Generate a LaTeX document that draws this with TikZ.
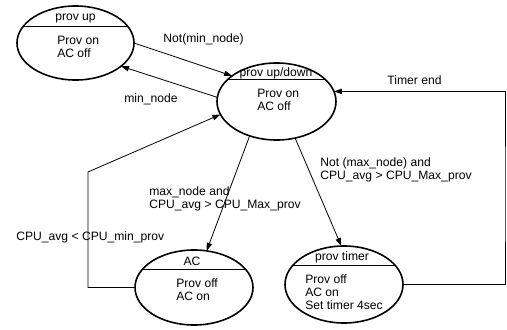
\documentclass[tikz,border=0pt]{standalone}
\usepackage{fontspec}
\setmainfont{Liberation Sans}
\usetikzlibrary{arrows.meta,calc,shapes.geometric}
\begin{document}
\begin{tikzpicture}[x=0.75pt,y=-0.75pt,
  state/.style={draw, ellipse, line width=1.2pt, inner sep=0pt, outer sep=0pt},
  conn/.style={line width=0.6pt},
  arr/.style={conn, -{Triangle[length=6pt,width=4pt]}},
  txt/.style={inner sep=0pt, font=\fontsize{9.1}{10}\selectfont},
  hdr/.style={line width=0.75pt}]
\useasboundingbox (0,0) rectangle (507,329);

% states
\node[state, minimum width=87.75pt, minimum height=55.5pt] (e1) at (75.5,43) {};
\node[state, minimum width=89.25pt, minimum height=57.75pt] (e2) at (276.5,101.5) {};
\node[state, minimum width=88.5pt, minimum height=56.25pt] (e3) at (194,287.5) {};
\node[state, minimum width=88.5pt, minimum height=57.75pt] (e4) at (344,284.5) {};

% header lines
\draw[hdr] ($(e1.center)+(-52,-17)$) -- ($(e1.center)+(52,-17)$);
\draw[hdr] ($(e2.center)+(-48.3,-22.5)$) -- ($(e2.center)+(48.3,-22.5)$);
\draw[hdr] ($(e3.center)+(-51.3,-18.5)$) -- ($(e3.center)+(51.3,-18.5)$);
\draw[hdr] ($(e4.center)+(-51.3,-19)$) -- ($(e4.center)+(51.3,-19)$);

% state texts
\node[txt, anchor=base] (h1) at (75.5,20) {prov up};
\node[txt, anchor=base west] (b1a) at (57,44) {Prov on};
\node[txt, anchor=base west] (b1b) at (57,57.5) {AC off};

\node[txt, anchor=base] (h2) at (276,76) {prov up/down};
\node[txt, anchor=base west] (b2a) at (257,97) {Prov on};
\node[txt, anchor=base west] (b2b) at (257,110.5) {AC off};

\node[txt, anchor=base] (h3) at (192,265) {AC};
\node[txt, anchor=base west] (b3a) at (176,287) {Prov off};
\node[txt, anchor=base west] (b3b) at (176,300.5) {AC on};

\node[txt, anchor=base] (h4) at (342,260) {prov timer};
\node[txt, anchor=base west] (b4a) at (305,283) {Prov off};
\node[txt, anchor=base west] (b4b) at (305,296) {AC on};
\node[txt, anchor=base west] (b4c) at (305,309) {Set timer 4sec};

% connectors
\draw[arr] (e1.east) -- (e2.150);
\draw[arr] (e2.176) -- (e1.-27);
\coordinate (lc) at (88,172);
\draw[arr] (e3.west) -| (lc) -- (e2.-167);
\draw[arr] (e2.-128) -- (e3.71);
\draw[arr] (e2.-63) -- (e4.94);
\coordinate (tc) at (505,200);
\draw[arr] (e4.east) -| (tc) |- (e2.10);

% connector labels
\node[txt, anchor=base] (l1) at (203.5,42) {Not(min\_node)};
\node[txt, anchor=base] (l2) at (151,102) {min\_node};
\node[txt, anchor=base] (l3) at (414.5,84) {Timer end};
\node[txt, anchor=base west] (l4a) at (320,166) {Not (max\_node) and};
\node[txt, anchor=base west] (l4b) at (320,179) {CPU\_avg > CPU\_Max\_prov};
\node[txt, anchor=base west] (l5a) at (149,195) {max\_node and};
\node[txt, anchor=base west] (l5b) at (149,208) {CPU\_avg > CPU\_Max\_prov};
\node[txt, anchor=base west] (l6) at (16,240) {CPU\_avg < CPU\_min\_prov};
\end{tikzpicture}
\end{document}
